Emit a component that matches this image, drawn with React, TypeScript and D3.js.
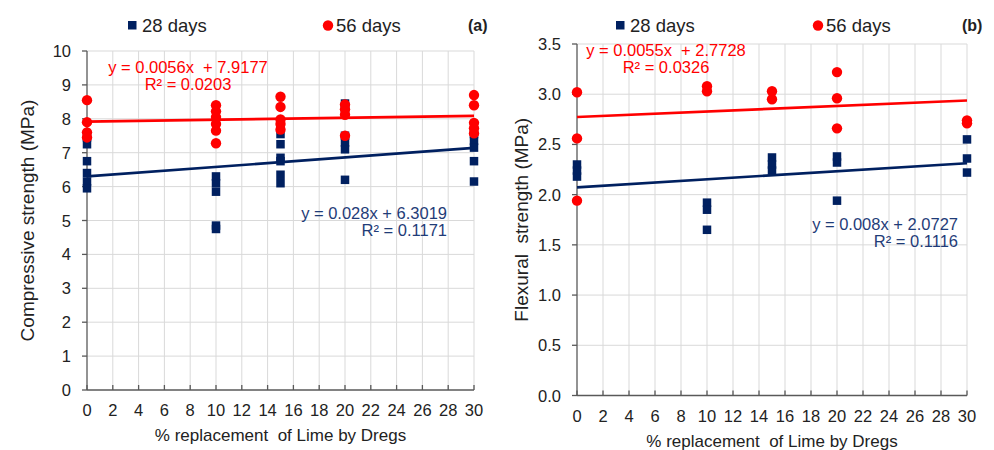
import React from 'react';
import * as d3 from 'd3';

// replacement levels (% of lime replaced by dregs)
const replacement = [0, 10, 15, 20, 30];

// compressive strength, MPa (panel a)
const comp28 = [
  [7.45, 7.25, 6.75, 6.4, 6.15, 5.95],
  [6.3, 6.1, 5.85, 4.85, 4.75],
  [7.75, 7.55, 7.25, 6.85, 6.75, 6.35, 6.1],
  [8.45, 8.3, 7.5, 7.3, 7.1, 6.2],
  [7.55, 7.35, 7.15, 6.75, 6.15],
];
const comp56 = [
  [8.55, 7.9, 7.6, 7.45],
  [8.4, 8.22, 8.05, 7.85, 7.65, 7.28],
  [8.65, 8.35, 7.98, 7.85, 7.68],
  [8.42, 8.28, 8.12, 7.5],
  [8.7, 8.4, 7.88, 7.72, 7.57],
];

// flexural strength, MPa (panel b)
const flex28 = [
  [2.3, 2.24, 2.18],
  [1.92, 1.85, 1.65],
  [2.37, 2.3, 2.24],
  [2.38, 2.32, 1.94],
  [2.55, 2.36, 2.22],
];
const flex56 = [
  [3.02, 2.56, 1.94],
  [3.08, 3.03],
  [3.03, 2.95],
  [3.22, 2.96, 2.66],
  [2.74, 2.71],
];

// trendlines [slope, intercept] as printed on the chart
const compTrend28 = [0.028, 6.3019];
const compTrend56 = [0.0056, 7.9177];
const flexTrend28 = [0.008, 2.0727];
const flexTrend56 = [0.0055, 2.7728];

const xTicks = d3.range(0, 31, 2);
const compTicks = d3.range(0, 11, 1);
const flexTicks = d3.range(0, 3.51, 0.5);

const NAVY = '#002060';
const RED = '#ff0000';
const FONT = "'Liberation Sans', Arial, sans-serif";
const PRE = { whiteSpace: 'pre' as const };

type PanelProps = {
  x0: number; x1: number; y0: number; y1: number;
  yMax: number; yTicks: number[]; yFmt: (v: number) => string;
  d28: number[][]; d56: number[][];
  t28: number[]; t56: number[];
  yTitle: string; yTitleX: number; tag: string;
  eq56: { x: number; y: number; anchor: string; lines: string[] };
  eq28: { x: number; y: number; anchor: string; lines: string[] };
  legend: { sq: number; circ: number; tag: number };
};

function Panel(p: PanelProps) {
  const x = d3.scaleLinear().domain([0, 30]).range([p.x0, p.x1]);
  const y = d3.scaleLinear().domain([0, p.yMax]).range([p.y0, p.y1]);
  const trend = (t: number[]) => d3.line<number>().x(v => x(v)).y(v => y(t[0] * v + t[1]))([0, 30]) || '';
  const sq = 8.5;
  return (
    <g fontFamily={FONT}>
      {/* grid */}
      {xTicks.slice(1).map(t => (
        <line key={'gx' + t} x1={x(t)} x2={x(t)} y1={p.y0} y2={p.y1} stroke="#d9d9d9" strokeWidth={1} />
      ))}
      {p.yTicks.slice(1).map(t => (
        <line key={'gy' + t} x1={p.x0} x2={p.x1} y1={y(t)} y2={y(t)} stroke="#d9d9d9" strokeWidth={1} />
      ))}
      {/* axes */}
      <line x1={p.x0} x2={p.x1} y1={p.y0} y2={p.y0} stroke="#595959" strokeWidth={1.3} />
      <line x1={p.x0} x2={p.x0} y1={p.y0} y2={p.y1} stroke="#595959" strokeWidth={1.3} />
      {xTicks.map(t => (
        <g key={'tx' + t}>
          <line x1={x(t)} x2={x(t)} y1={p.y0} y2={p.y0 - 5} stroke="#595959" strokeWidth={1.3} />
          <text x={x(t)} y={p.y0 + 26} textAnchor="middle" fontSize={16.5} fill="#222">{t}</text>
        </g>
      ))}
      {p.yTicks.map(t => (
        <g key={'ty' + t}>
          <line x1={p.x0 - 5} x2={p.x0} y1={y(t)} y2={y(t)} stroke="#595959" strokeWidth={1.3} />
          <text x={p.x0 - 16} y={y(t) + 6} textAnchor="end" fontSize={16.5} fill="#222">{p.yFmt(t)}</text>
        </g>
      ))}
      <text x={(p.x0 + p.x1) / 2} y={p.y0 + 51} textAnchor="middle" fontSize={17} fill="#222" style={PRE}>{'% replacement  of Lime by Dregs'}</text>
      <text transform={`translate(${p.yTitleX},${(p.y0 + p.y1) / 2}) rotate(-90)`} textAnchor="middle" fontSize={19} fill="#222" style={PRE}>{p.yTitle}</text>
      {/* 28 days */}
      {p.d28.map((vals, i) => vals.map((v, j) => (
        <rect key={`s${i}-${j}`} x={x(replacement[i]) - sq / 2} y={y(v) - sq / 2} width={sq} height={sq} fill={NAVY} />
      )))}
      {/* 56 days */}
      {p.d56.map((vals, i) => vals.map((v, j) => (
        <circle key={`c${i}-${j}`} cx={x(replacement[i])} cy={y(v)} r={5.2} fill={RED} />
      )))}
      {/* trendlines */}
      <path d={trend(p.t28)} stroke={NAVY} strokeWidth={2.6} fill="none" />
      <path d={trend(p.t56)} stroke={RED} strokeWidth={2.6} fill="none" />
      {/* equations */}
      {p.eq56.lines.map((s, i) => (
        <text key={'e56' + i} x={p.eq56.x} y={p.eq56.y + i * 17} textAnchor={p.eq56.anchor} fontSize={16.5} fill={RED} style={PRE}>{s}</text>
      ))}
      {p.eq28.lines.map((s, i) => (
        <text key={'e28' + i} x={p.eq28.x} y={p.eq28.y + i * 17} textAnchor={p.eq28.anchor} fontSize={16.5} fill="#1f3c78" style={PRE}>{s}</text>
      ))}
      {/* legend */}
      <rect x={p.legend.sq} y={21} width={8.5} height={8.5} fill={NAVY} />
      <text x={p.legend.sq + 14} y={32} fontSize={18.5} fill="#222">28 days</text>
      <circle cx={p.legend.circ} cy={25.5} r={5.2} fill={RED} />
      <text x={p.legend.circ + 8} y={32} fontSize={18.5} fill="#222">56 days</text>
      <text x={p.legend.tag} y={31} fontSize={16} fontWeight="bold" fill="#222">{p.tag}</text>
    </g>
  );
}

export default function App() {
  return (
    <svg width={994} height={450} style={{ position: 'absolute', left: 0, top: 0, background: '#fff' }}>
      <Panel
        x0={87} x1={474} y0={390} y1={51}
        yMax={10} yTicks={compTicks} yFmt={v => String(v)}
        d28={comp28} d56={comp56} t28={compTrend28} t56={compTrend56}
        yTitle="Compressive strength (MPa)" yTitleX={34} tag="(a)"
        eq56={{ x: 188, y: 73, anchor: 'middle', lines: ['y = 0.0056x  + 7.9177', 'R² = 0.0203'] }}
        eq28={{ x: 447, y: 219, anchor: 'end', lines: ['y = 0.028x + 6.3019', 'R² = 0.1171'] }}
        legend={{ sq: 128, circ: 328, tag: 468 }}
      />
      <Panel
        x0={577} x1={967} y0={395.5} y1={44}
        yMax={3.5} yTicks={flexTicks} yFmt={v => v.toFixed(1)}
        d28={flex28} d56={flex56} t28={flexTrend28} t56={flexTrend56}
        yTitle={'Flexural  strength (MPa)'} yTitleX={528} tag="(b)"
        eq56={{ x: 666, y: 56, anchor: 'middle', lines: ['y = 0.0055x  + 2.7728', 'R² = 0.0326'] }}
        eq28={{ x: 958, y: 230, anchor: 'end', lines: ['y = 0.008x + 2.0727', 'R² = 0.1116'] }}
        legend={{ sq: 616, circ: 818, tag: 962 }}
      />
    </svg>
  );
}
